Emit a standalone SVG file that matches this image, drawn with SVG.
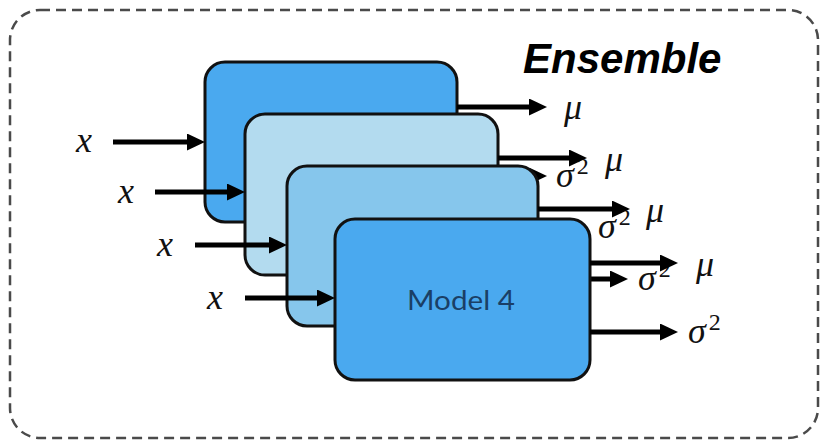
<svg xmlns="http://www.w3.org/2000/svg" width="823" height="442" viewBox="0 0 823 442">
<style>
.frame{fill:none;stroke:#4a4a4a;stroke-width:2.5;stroke-dasharray:10 6}
.box{stroke:#111;stroke-width:3}
.dark{fill:#4aa9ef}
.light{fill:#b3dbef}
.mid{fill:#86c6ec}
.arr{stroke:#000;stroke-width:5;fill:none;marker-end:url(#ah)}
.math{font-family:"Liberation Serif","DejaVu Serif",serif;font-style:italic;font-size:36px;fill:#111}
.sup{font-size:24px;font-style:normal}
.title{font-family:"Liberation Sans",Arial,sans-serif;font-weight:bold;font-style:italic;font-size:42px;fill:#000}
.model{font-family:Lato,"Open Sans",sans-serif;font-size:27px;fill:#1a3f66}
</style>
<defs>
<marker id="ah" viewBox="0 0 18 17" refX="6" refY="8.5" markerWidth="18" markerHeight="17" markerUnits="userSpaceOnUse" orient="auto">
<path d="M0,0 L18,8.5 L0,17 z" fill="#000"/>
</marker>
</defs>
<rect class="frame" x="10" y="10" width="808" height="428" rx="30"/>
<text class="title" x="523" y="73">Ensemble</text>

<g id="model1">
<rect class="box dark" x="205" y="62" width="252" height="160" rx="20"/>
</g>
<g id="edges-model1" class="connectors">
<line class="arr" x1="113" y1="142" x2="193" y2="142"/>
<text class="math" x="76" y="152">x</text>
<line class="arr" x1="457" y1="107" x2="535" y2="107"/>
<text class="math" x="564" y="119">μ</text>
<line class="arr" x1="457" y1="176" x2="535" y2="176"/>
<text class="math" x="556" y="187">σ<tspan class="sup" dx="3" dy="-13">2</tspan></text>
</g>

<g id="model2">
<rect class="box light" x="245" y="114" width="253" height="161" rx="20"/>
</g>
<g id="edges-model2" class="connectors">
<line class="arr" x1="155" y1="192" x2="233" y2="192"/>
<text class="math" x="118" y="203">x</text>
<line class="arr" x1="498" y1="158" x2="575" y2="158"/>
<text class="math" x="605" y="171">μ</text>
<line class="arr" x1="498" y1="227" x2="575" y2="227"/>
<text class="math" x="598" y="238">σ<tspan class="sup" dx="3" dy="-13">2</tspan></text>
</g>

<g id="model3">
<rect class="box mid" x="287" y="166" width="251" height="160" rx="20"/>
</g>
<g id="edges-model3" class="connectors">
<line class="arr" x1="195" y1="245" x2="275" y2="245"/>
<text class="math" x="157" y="256">x</text>
<line class="arr" x1="538" y1="209" x2="618" y2="209"/>
<text class="math" x="646" y="222">μ</text>
<line class="arr" x1="538" y1="279" x2="616" y2="279"/>
<text class="math" x="638" y="290">σ<tspan class="sup" dx="3" dy="-13">2</tspan></text>
</g>

<g id="model4">
<rect class="box dark" x="335" y="219" width="255" height="161" rx="20"/>
<text class="model" x="407" y="310" textLength="108" lengthAdjust="spacingAndGlyphs">Model 4</text>
</g>
<g id="edges-model4" class="connectors">
<line class="arr" x1="245" y1="298" x2="323" y2="298"/>
<text class="math" x="207" y="309">x</text>
<line class="arr" x1="590" y1="263" x2="666" y2="263"/>
<text class="math" x="696" y="276">μ</text>
<line class="arr" x1="590" y1="332" x2="666" y2="332"/>
<text class="math" x="688" y="343">σ<tspan class="sup" dx="3" dy="-13">2</tspan></text>
</g>
</svg>
